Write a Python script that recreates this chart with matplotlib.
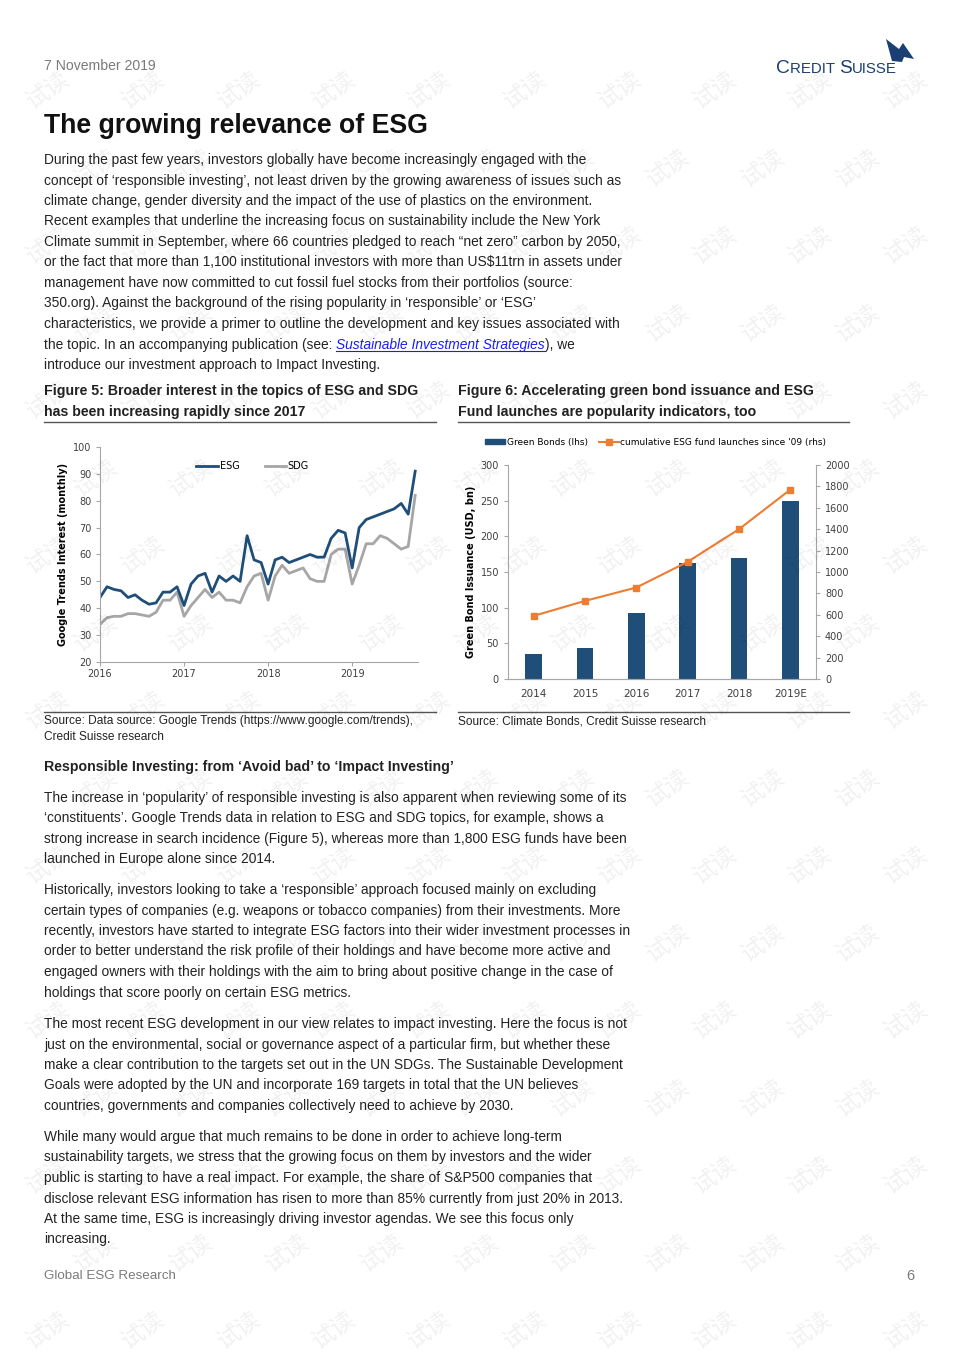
import matplotlib
matplotlib.use('Agg')
import matplotlib.pyplot as plt
from matplotlib import font_manager as fm
from matplotlib.lines import Line2D
from matplotlib.patches import Patch, Polygon

# ---- chart data ----
esg = [44, 48, 47, 46.5, 44, 45, 43, 41.5, 42, 46, 46, 48,
       41, 49, 52, 53, 46, 52, 50, 52, 50, 67, 58, 57,
       49, 58, 59, 57, 58, 59, 60, 59, 59, 66, 69, 68,
       55, 70, 73, 74, 75, 76, 77, 79, 75, 91]
sdg = [34, 36.5, 37, 37, 38, 38, 37.5, 37, 38.5, 43, 43, 46,
       37, 41, 44, 47, 44, 46, 43, 43, 42, 48, 52, 53,
       43, 52, 56, 53, 54, 55, 51, 50, 50, 60, 62, 62,
       49, 56, 64, 64, 67, 66, 64, 62, 63, 82]
trend_years = ['2016', '2017', '2018', '2019']

bond_years = ['2014', '2015', '2016', '2017', '2018', '2019E']
green_bonds = [35, 44, 92, 163, 170, 250]
fund_launches = [590, 730, 855, 1095, 1400, 1770]

W, H = 960, 1357
names = {f.name for f in fm.fontManager.ttflist}
BODY = 'Liberation Sans Narrow' if 'Liberation Sans Narrow' in names else 'Liberation Sans'
SANS = 'Liberation Sans'
NAVY = '#1f4e79'
ORANGE = '#ed7d31'
TXT = '#222222'
FS = 9.9

fig = plt.figure(figsize=(W / 100, H / 100), dpi=100)
renderer = fig.canvas.get_renderer()


def put(x, y, s, **kw):
    kw.setdefault('va', 'center')
    kw.setdefault('family', BODY)
    kw.setdefault('color', TXT)
    return fig.text(x / W, 1 - y / H, s, **kw)


def hline(x0, x1, y, lw=1.0, color='#555555'):
    fig.add_artist(Line2D([x0 / W, x1 / W], [1 - y / H, 1 - y / H],
                          transform=fig.transFigure, lw=lw, color=color))


def para(lines, y0, step=20.5, size=FS):
    for i, ln in enumerate(lines):
        put(44, y0 + i * step, ln, fontsize=size)


# ---- header ----
put(44, 66, '7 November 2019', fontsize=10.1, color='#7a7a7a')
put(44, 126, 'The growing relevance of ESG', fontsize=19.2, weight='bold',
    family=SANS, color='#111111')

# logo
x = 776
for s, sz in [('C', 13.8), ('REDIT ', 10.8), ('S', 13.8), ('UISSE', 10.8)]:
    t = put(x, 73, s, fontsize=sz, family=SANS, color='#1b3f73', va='baseline')
    x = t.get_window_extent(renderer).x1
sail = [(886, 39), (899, 49), (903, 43), (914, 59), (904, 57), (902, 62), (892, 61)]
fig.add_artist(Polygon([(px / W, 1 - py / H) for px, py in sail], closed=True,
                       transform=fig.transFigure, color='#1b3f73', lw=0))

p1 = [
    'During the past few years, investors globally have become increasingly engaged with the',
    'concept of \u2018responsible investing\u2019, not least driven by the growing awareness of issues such as',
    'climate change, gender diversity and the impact of the use of plastics on the environment.',
    'Recent examples that underline the increasing focus on sustainability include the New York',
    'Climate summit in September, where 66 countries pledged to reach \u201cnet zero\u201d carbon by 2050,',
    'or the fact that more than 1,100 institutional investors with more than US$11trn in assets under',
    'management have now committed to cut fossil fuel stocks from their portfolios (source:',
    '350.org). Against the background of the rising popularity in \u2018responsible\u2019 or \u2018ESG\u2019',
    'characteristics, we provide a primer to outline the development and key issues associated with',
]
para(p1, 160)
# line with link
t = put(44, 160 + 9 * 20.5, 'the topic. In an accompanying publication (see: ', fontsize=FS)
bb = t.get_window_extent(renderer)
t2 = fig.text(bb.x1 / W, 1 - (160 + 9 * 20.5) / H, 'Sustainable Investment Strategies',
              va='center', fontsize=FS, family=BODY, style='italic', color='#1a1aff')
bb2 = t2.get_window_extent(renderer)
fig.add_artist(Line2D([bb2.x0 / W, bb2.x1 / W], [(bb2.y0 + 1) / H] * 2,
                      transform=fig.transFigure, lw=0.8, color='#1a1aff'))
fig.text(bb2.x1 / W, 1 - (160 + 9 * 20.5) / H, '), we', va='center',
         fontsize=FS, family=BODY, color=TXT)
put(44, 160 + 10 * 20.5, 'introduce our investment approach to Impact Investing.', fontsize=FS)

# ---- figure captions ----
CAP = 10.15
put(44, 391, 'Figure 5: Broader interest in the topics of ESG and SDG', fontsize=CAP, weight='bold')
put(44, 412, 'has been increasing rapidly since 2017', fontsize=CAP, weight='bold')
put(458, 391, 'Figure 6: Accelerating green bond issuance and ESG', fontsize=CAP, weight='bold')
put(458, 412, 'Fund launches are popularity indicators, too', fontsize=CAP, weight='bold')
hline(44, 436, 422)
hline(458, 849, 422)
hline(44, 436, 712)
hline(458, 849, 712)

# ---- chart 1: Google trends ----
ax1 = fig.add_axes([100 / W, 1 - 662 / H, 318 / W, 215 / H])
months = list(range(len(esg)))
ax1.plot(months, sdg, color='#a6a6a6', lw=2.0, label='SDG', solid_joinstyle='round')
ax1.plot(months, esg, color=NAVY, lw=2.0, label='ESG', solid_joinstyle='round')
ax1.set_xlim(0, 45.4)
ax1.set_ylim(20, 100)
ax1.set_yticks(range(20, 101, 10))
ax1.set_xticks([0, 12, 24, 36])
ax1.set_xticklabels(trend_years)
for sp in ['top', 'right']:
    ax1.spines[sp].set_visible(False)
for sp in ['left', 'bottom']:
    ax1.spines[sp].set_color('#a6a6a6')
    ax1.spines[sp].set_linewidth(0.8)
ax1.tick_params(axis='y', length=3, color='#a6a6a6', labelsize=7, labelcolor='#404040', pad=3)
ax1.tick_params(axis='x', length=3, color='#a6a6a6', labelsize=7, labelcolor='#404040', pad=2)
ax1.set_ylabel('Google Trends Interest (monthly)', fontsize=7, weight='bold', labelpad=4)
h, l = ax1.get_legend_handles_labels()
ax1.legend(h[::-1], l[::-1], loc='center', bbox_to_anchor=(0.48, 0.912), ncol=2, frameon=False,
           fontsize=7, handlelength=2.2, columnspacing=2.6, handletextpad=0.2)

# ---- chart 2: green bonds / fund launches ----
ax2 = fig.add_axes([508 / W, 1 - 679 / H, 308 / W, 214 / H])
xs = list(range(len(bond_years)))
ax2.bar(xs, green_bonds, width=0.32, color=NAVY, label='Green Bonds (lhs)')
ax2.set_xlim(-0.5, 5.5)
ax2.set_ylim(0, 300)
ax2.set_yticks(range(0, 301, 50))
ax2.set_xticks(xs)
ax2.set_xticklabels(bond_years)
ax3 = ax2.twinx()
ax3.plot(xs, fund_launches, color=ORANGE, lw=1.5, marker='s', markersize=4.5,
         label="cumulative ESG fund launches since '09 (rhs)")
ax3.set_ylim(0, 2000)
ax3.set_yticks(range(0, 2001, 200))
for a in (ax2, ax3):
    a.spines['top'].set_visible(False)
    for sp in ['left', 'right', 'bottom']:
        a.spines[sp].set_color('#a6a6a6')
        a.spines[sp].set_linewidth(0.8)
ax2.spines['right'].set_visible(False)
ax3.spines['left'].set_visible(False)
ax2.tick_params(axis='y', length=3, color='#a6a6a6', labelsize=7, labelcolor='#404040')
ax3.tick_params(axis='y', length=3, color='#a6a6a6', labelsize=7, labelcolor='#404040')
ax2.tick_params(axis='x', length=0, labelsize=7.5, labelcolor='#404040', pad=7)
ax2.set_ylabel('Green Bond Issuance (USD, bn)', fontsize=7, weight='bold', labelpad=3)
handles = [Patch(color=NAVY), Line2D([], [], color=ORANGE, lw=1.5, marker='s', markersize=4.5)]
ax2.legend(handles, ['Green Bonds (lhs)', "cumulative ESG fund launches since '09 (rhs)"],
           loc='center', bbox_to_anchor=(0.48, 1.107), ncol=2, frameon=False, fontsize=6.5,
           handlelength=2.2, handleheight=0.5, columnspacing=1.2, handletextpad=0.2)

# ---- sources ----
put(44, 721, 'Source: Data source: Google Trends (https://www.google.com/trends),', fontsize=8.6)
put(44, 737, 'Credit Suisse research', fontsize=8.6)
put(458, 721, 'Source: Climate Bonds, Credit Suisse research', fontsize=8.6)

put(44, 767, 'Responsible Investing: from \u2018Avoid bad\u2019 to \u2018Impact Investing\u2019',
    fontsize=CAP, weight='bold')

para([
    'The increase in \u2018popularity\u2019 of responsible investing is also apparent when reviewing some of its',
    '\u2018constituents\u2019. Google Trends data in relation to ESG and SDG topics, for example, shows a',
    'strong increase in search incidence (Figure 5), whereas more than 1,800 ESG funds have been',
    'launched in Europe alone since 2014.',
], 798)
para([
    'Historically, investors looking to take a \u2018responsible\u2019 approach focused mainly on excluding',
    'certain types of companies (e.g. weapons or tobacco companies) from their investments. More',
    'recently, investors have started to integrate ESG factors into their wider investment processes in',
    'order to better understand the risk profile of their holdings and have become more active and',
    'engaged owners with their holdings with the aim to bring about positive change in the case of',
    'holdings that score poorly on certain ESG metrics.',
], 890)
para([
    'The most recent ESG development in our view relates to impact investing. Here the focus is not',
    'just on the environmental, social or governance aspect of a particular firm, but whether these',
    'make a clear contribution to the targets set out in the UN SDGs. The Sustainable Development',
    'Goals were adopted by the UN and incorporate 169 targets in total that the UN believes',
    'countries, governments and companies collectively need to achieve by 2030.',
], 1024)
para([
    'While many would argue that much remains to be done in order to achieve long-term',
    'sustainability targets, we stress that the growing focus on them by investors and the wider',
    'public is starting to have a real impact. For example, the share of S&P500 companies that',
    'disclose relevant ESG information has risen to more than 85% currently from just 20% in 2013.',
    'At the same time, ESG is increasingly driving investor agendas. We see this focus only',
    'increasing.',
], 1137)

put(44, 1276, 'Global ESG Research', fontsize=9.6, color='#7a7a7a')
put(914, 1276, '6', fontsize=10.5, color='#7a7a7a', ha='right')

# ---- watermark (only the marks that sit fully on the page) ----
for r in range(18):
    y = 13 + r * 77.5
    x0 = 1 if r % 2 == 0 else -47
    for c in range(11):
        xw = x0 + c * 95.3
        if xw < 32 or xw > W - 32 or y < 26 or y > H - 26:
            continue
        fig.text(xw / W, 1 - y / H, '\u8bd5\u8bfb', ha='center', va='center',
                 rotation=35, fontsize=17, family='Noto Sans CJK SC', color='#000000',
                 alpha=0.06, zorder=20)

fig.savefig('out.png', dpi=100)
